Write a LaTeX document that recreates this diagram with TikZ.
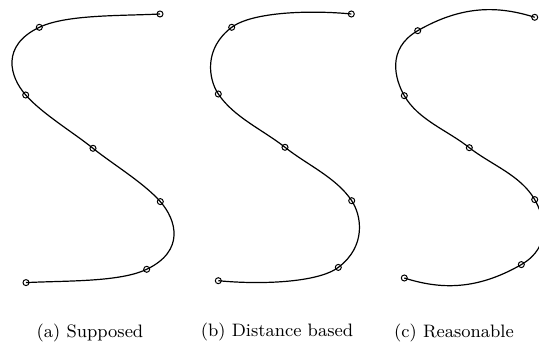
\documentclass[tikz,border=0pt]{standalone}
\usepackage{tikz}

\begin{document}
\begin{tikzpicture}[x=0.5pt,y=-0.5pt,
    knot/.style={circle,draw,line width=0.5pt,minimum size=3pt,inner sep=0pt},
    spline/.style={line width=0.6pt},
    caption/.style={font=\small}]

  \useasboundingbox (0,0) rectangle (539,347);
  \clip (0,0) rectangle (539,347);

  % (a) supposed
  \foreach \i/\x/\y in {0/160/14, 1/39.3/27.3, 2/25.7/95, 3/93/148.3,
      4/160.3/201.6, 5/146.7/269.3, 6/26/282.6} {
    \coordinate (a\i) at (\x,\y);
  }
  \draw[spline] (a0) .. controls (120,16) and (66.3,14.4) .. (a1)
    .. controls (0.8,45.7) and (9.5,76.6) .. (a2)
    .. controls (42.2,113.8) and (73.8,132.8) .. (a3)
    .. controls (112.2,163.8) and (143.8,182.8) .. (a4)
    .. controls (176.5,220) and (185.2,250.9) .. (a5)
    .. controls (119.7,282.2) and (66,280.6) .. (a6);
  \foreach \i in {0,...,6}
    \node[knot] (ka\i) at (a\i) {};

  % (b) distance based
  \begin{scope}[shift={(190,0)}]
    \foreach \i/\x/\y in {0/161.3/14, 1/41.7/27.3, 2/28.3/94, 3/95/147.3,
        4/161.7/200.7, 5/148.3/267.4, 6/28.3/280.7} {
      \coordinate (b\i) at (\x,\y);
    }
    \draw[spline] (b0) .. controls (121.3,10) and (62.5,11.7) .. (b1)
      .. controls (13.5,48.5) and (18.4,79.1) .. (b2)
      .. controls (43.7,117.2) and (73.2,130) .. (b3)
      .. controls (116.8,164.7) and (146.3,177.5) .. (b4)
      .. controls (171.6,215.6) and (176.5,246.2) .. (b5)
      .. controls (127.5,283) and (68.7,284.7) .. (b6);
    \foreach \i in {0,...,6}
      \node[knot] (kb\i) at (b\i) {};
  \end{scope}

  % (c) reasonable
  \begin{scope}[shift={(370,0)}]
    \foreach \i/\x/\y in {0/164.7/17.3, 1/47.7/30.7, 2/34.3/95.7, 3/99.3/147.7,
        4/164.7/199.6, 5/151.3/264.6, 6/34.3/278} {
      \coordinate (c\i) at (\x,\y);
    }
    \draw[spline] (c0) .. controls (129.4,6.1) and (93.2,4.5) .. (c1)
      .. controls (16.1,48.9) and (25.1,79.7) .. (c2)
      .. controls (48.3,120.1) and (77.5,130.3) .. (c3)
      .. controls (121.5,165) and (150.7,175.2) .. (c4)
      .. controls (173.9,215.6) and (182.9,246.4) .. (c5)
      .. controls (105.8,290.8) and (69.6,289.2) .. (c6);
    \foreach \i in {0,...,6}
      \node[knot] (kc\i) at (c\i) {};
  \end{scope}

  \node[caption] (capa) at (90,333) {(a) Supposed};
  \node[caption] (capb) at (277,332) {(b) Distance based};
  \node[caption] (capc) at (454,333) {(c) Reasonable};

\end{tikzpicture}
\end{document}
